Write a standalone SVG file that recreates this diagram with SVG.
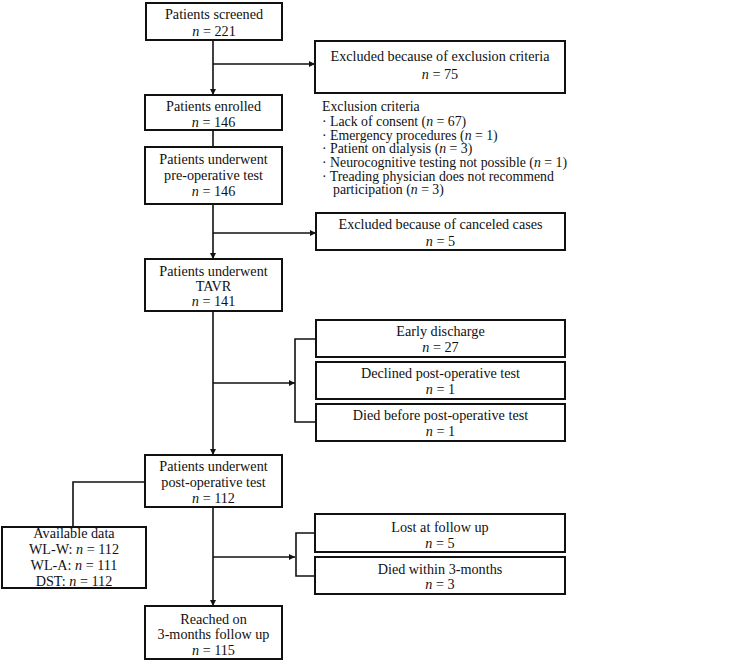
<svg xmlns="http://www.w3.org/2000/svg" width="756" height="661" viewBox="0 0 756 661">
<defs>
<style>
.box{fill:#fff;stroke:#111;stroke-width:2}
.c{fill:none;stroke:#111;stroke-width:1.6}
text{font-family:"Liberation Serif","DejaVu Serif",serif;font-size:14.2px;fill:#111}
.m{text-anchor:middle}
.i{font-style:italic}
.l{font-size:13.8px}
</style>
<marker id="ah" viewBox="0 0 10 10" refX="10" refY="5" markerWidth="6" markerHeight="6" markerUnits="userSpaceOnUse" orient="auto">
<path d="M0,0 L10,5 L0,10 z" fill="#111"/>
</marker>
</defs>
<rect width="756" height="661" fill="#fff"/>
<g id="connectors">
<path class="c" d="M213,40 V95" marker-end="url(#ah)"/>
<path class="c" d="M213,64 H315" marker-end="url(#ah)"/>
<path class="c" d="M213,130 V147"/>
<path class="c" d="M213,204 V259" marker-end="url(#ah)"/>
<path class="c" d="M213,233 H316" marker-end="url(#ah)"/>
<path class="c" d="M213,311 V455" marker-end="url(#ah)"/>
<path class="c" d="M213,383 H295" marker-end="url(#ah)"/>
<path class="c" d="M316,339 H295 V422 H316"/>
<path class="c" d="M145,482 H73 V527"/>
<path class="c" d="M213,507 V606" marker-end="url(#ah)"/>
<path class="c" d="M213,557 H295" marker-end="url(#ah)"/>
<path class="c" d="M315,533 H296 V576 H315"/>
</g>
<g id="screened">
<rect class="box" x="146" y="3" width="136" height="37"/>
<text class="m" x="214" y="19">Patients screened</text>
<text class="m" x="214" y="36"><tspan class="i">n</tspan> = 221</text>
</g>
<g id="excluded-criteria">
<rect class="box" x="315" y="41" width="250" height="52"/>
<text class="m" x="440" y="61">Excluded because of exclusion criteria</text>
<text class="m" x="440" y="79"><tspan class="i">n</tspan> = 75</text>
</g>
<g id="criteria-list">
<text class="l" x="322" y="111">Exclusion criteria</text>
<text class="l" x="322" y="126">· Lack of consent (<tspan class="i">n</tspan> = 67)</text>
<text class="l" x="322" y="139.5">· Emergency procedures (<tspan class="i">n</tspan> = 1)</text>
<text class="l" x="322" y="153">· Patient on dialysis (<tspan class="i">n</tspan> = 3)</text>
<text class="l" x="322" y="167">· Neurocognitive testing not possible (<tspan class="i">n</tspan> = 1)</text>
<text class="l" x="322" y="180.5">· Treading physician does not recommend</text>
<text class="l" x="333" y="194">participation (<tspan class="i">n</tspan> = 3)</text>
</g>
<g id="enrolled">
<rect class="box" x="145" y="95" width="137" height="35"/>
<text class="m" x="213.5" y="111">Patients enrolled</text>
<text class="m" x="213.5" y="127"><tspan class="i">n</tspan> = 146</text>
</g>
<g id="preop">
<rect class="box" x="145" y="147" width="137" height="57"/>
<text class="m" x="213.5" y="164">Patients underwent</text>
<text class="m" x="213.5" y="180">pre-operative test</text>
<text class="m" x="213.5" y="196"><tspan class="i">n</tspan> = 146</text>
</g>
<g id="canceled">
<rect class="box" x="316" y="213" width="249" height="37"/>
<text class="m" x="440.5" y="229">Excluded because of canceled cases</text>
<text class="m" x="440.5" y="246"><tspan class="i">n</tspan> = 5</text>
</g>
<g id="tavr">
<rect class="box" x="145" y="259" width="137" height="52"/>
<text class="m" x="213.5" y="276">Patients underwent</text>
<text class="m" x="213.5" y="291">TAVR</text>
<text class="m" x="213.5" y="306"><tspan class="i">n</tspan> = 141</text>
</g>
<g id="early-discharge">
<rect class="box" x="316" y="320" width="249" height="37"/>
<text class="m" x="440.5" y="336">Early discharge</text>
<text class="m" x="440.5" y="352"><tspan class="i">n</tspan> = 27</text>
</g>
<g id="declined">
<rect class="box" x="316" y="362" width="249" height="37"/>
<text class="m" x="440.5" y="378">Declined post-operative test</text>
<text class="m" x="440.5" y="394"><tspan class="i">n</tspan> = 1</text>
</g>
<g id="died-before">
<rect class="box" x="316" y="404" width="249" height="37"/>
<text class="m" x="440.5" y="420">Died before post-operative test</text>
<text class="m" x="440.5" y="436"><tspan class="i">n</tspan> = 1</text>
</g>
<g id="postop">
<rect class="box" x="145" y="455" width="137" height="52"/>
<text class="m" x="213.5" y="471">Patients underwent</text>
<text class="m" x="213.5" y="487">post-operative test</text>
<text class="m" x="213.5" y="503"><tspan class="i">n</tspan> = 112</text>
</g>
<g id="available">
<rect class="box" x="2" y="527" width="144" height="61"/>
<text class="m" x="74" y="538">Available data</text>
<text class="m" x="74" y="554">WL-W: <tspan class="i">n</tspan> = 112</text>
<text class="m" x="74" y="570">WL-A: <tspan class="i">n</tspan> = 111</text>
<text class="m" x="74" y="586">DST: <tspan class="i">n</tspan> = 112</text>
</g>
<g id="lost">
<rect class="box" x="315" y="514" width="250" height="38"/>
<text class="m" x="440" y="532">Lost at follow up</text>
<text class="m" x="440" y="548"><tspan class="i">n</tspan> = 5</text>
</g>
<g id="died-within">
<rect class="box" x="315" y="557" width="250" height="37"/>
<text class="m" x="440" y="574">Died within 3-months</text>
<text class="m" x="440" y="589"><tspan class="i">n</tspan> = 3</text>
</g>
<g id="reached">
<rect class="box" x="145" y="606" width="137" height="53"/>
<text class="m" x="213.5" y="624">Reached on</text>
<text class="m" x="213.5" y="639">3-months follow up</text>
<text class="m" x="213.5" y="655"><tspan class="i">n</tspan> = 115</text>
</g>
</svg>
